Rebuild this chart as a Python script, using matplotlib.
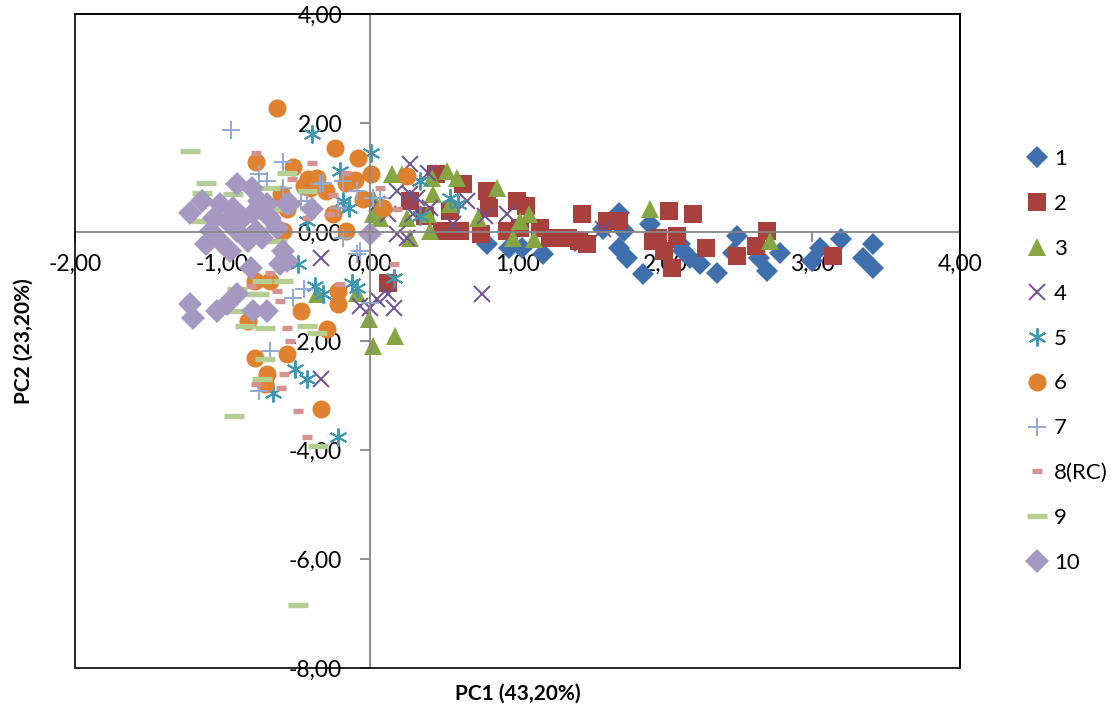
import matplotlib
matplotlib.use("Agg")
import matplotlib.pyplot as plt
from matplotlib.patches import Rectangle
from matplotlib.ticker import FixedLocator, FuncFormatter

plt.rcParams['font.family'] = ['Lato', 'DejaVu Sans']

labels = ["1", "2", "3", "4", "5", "6", "7", "8(RC)", "9", "10"]

s1_x = [0.79, 0.94, 1.03, 1.17, 1.39, 1.58, 1.69, 1.72, 1.69, 1.74, 1.85, 1.90, 2.10, 2.12, 2.17, 2.24,
        2.35, 2.49, 2.46, 2.64, 2.69, 2.78, 3.00, 3.05, 3.19, 3.34, 3.41, 3.41]
s1_y = [-0.22, -0.29, -0.29, -0.40, -0.16, 0.05, 0.35, 0.02, -0.29, -0.48, -0.77, 0.15, -0.22, -0.35, -0.48, -0.59,
        -0.75, -0.07, -0.38, -0.48, -0.71, -0.38, -0.53, -0.29, -0.13, -0.48, -0.22, -0.66]

s2_x = [0.12, 0.27, 0.37, 0.45, 0.63, 0.79, 1.00, 1.06, 0.81, 0.54, 0.49, 0.61, 0.75, 0.93, 1.02, 1.15, 1.22,
        1.34, 1.44, 1.42, 1.47, 1.61, 1.69, 1.92, 2.03, 2.19, 1.95, 2.08, 1.99, 2.05, 2.28, 2.49, 2.62, 2.69, 3.14]
s2_y = [-0.93, 0.57, 0.29, 1.06, 0.88, 0.75, 0.57, 0.48, 0.44, 0.38, 0.02, 0.02, -0.04, 0.02, 0.07, 0.07, -0.11,
        -0.11, 0.33, -0.16, -0.22, 0.20, 0.20, -0.16, 0.38, 0.33, -0.11, -0.07, -0.35, -0.66, -0.29, -0.44, -0.26, 0.02, -0.44]

s3_x = [-0.01, 0.02, 0.17, -0.09, -0.36, 0.15, 0.22, 0.42, 0.52, 0.59, 0.43, 0.54, 0.39, 0.25, 0.07, 0.41,
        0.73, 0.86, 1.02, 1.08, 0.97, 1.11, 1.90, 2.71, 0.02, 0.27, 0.02]
s3_y = [-1.59, -2.09, -1.90, -1.12, -1.14, 1.06, 1.06, 0.99, 1.12, 0.99, 0.70, 0.51, 0.33, 0.26, 0.26, 0.02,
        0.26, 0.81, 0.20, 0.33, -0.11, -0.13, 0.42, -0.16, 0.62, -0.11, 0.33]

s4_x = [0.27, 0.76, -0.33, -0.33, 0.00, 0.16, 0.12, -0.07, 0.05, 0.56, 0.93, 1.58, 0.41, 0.32, 0.18, 0.18,
        0.27, 0.12, 0.29, 0.25, 0.05, 0.39, 0.66, 0.78]
s4_y = [1.25, -1.14, -0.48, -2.69, -1.39, -1.39, -1.14, -1.36, -1.23, 0.15, 0.33, 0.05, 0.44, 0.62, -0.04, 0.75,
        0.70, 0.33, 0.33, -0.11, 0.51, 1.08, 0.57, 0.29]

s5_x = [-0.39, 0.01, -0.20, -0.18, -0.14, 0.34, 0.54, 0.34, 0.60, 0.16, -0.12, -0.49, -0.37, -0.32, -0.51,
        -0.43, -0.66, -0.22, -0.09, -0.43]
s5_y = [1.79, 1.45, 1.12, 0.57, 0.44, 0.93, 0.62, 0.29, 0.51, -0.84, -0.93, -0.59, -0.99, -1.14, -2.51,
        -2.69, -2.95, -3.77, -1.03, 0.20]

s6_x = [-0.63, -0.24, -0.08, -0.77, -0.52, -0.42, -0.36, -0.16, 0.01, 0.25, -0.25, -0.56, -0.59, -0.16, 0.09,
        -0.41, -0.78, -0.68, -0.83, -0.47, -0.29, -0.22, -0.22, -0.78, -0.56, -0.70, -0.71, -0.33,
        -0.45, -0.30, -0.10, -0.05, -0.60]
s6_y = [2.27, 1.54, 1.36, 1.28, 1.19, 0.97, 0.99, 0.90, 1.06, 1.03, 0.33, 0.42, 0.02, 0.02, 0.44,
        0.81, -0.90, -0.90, -1.63, -1.45, -1.78, -1.08, -1.32, -2.31, -2.23, -2.60, -2.78, -3.24,
        0.85, 0.75, 0.95, 0.60, 0.70]

s7_x = [-0.94, -0.59, -0.75, -0.70, -0.59, -0.47, -0.32, -0.18, -0.09, 0.02, -0.07, -0.18, -0.68, -0.75,
        -0.09, 0.00, -0.45, -0.52, -0.95, -0.34, -0.22, -0.43, 0.07]
s7_y = [1.87, 1.28, 1.06, 0.93, 0.81, 0.57, 0.90, 0.93, 0.75, 0.62, -0.35, -0.11, -2.18, -2.91,
        -0.40, -1.30, -1.04, -1.21, -1.21, 0.88, 0.44, 0.57, 0.62]

s8_x = [-0.77, -0.39, -0.53, -0.16, -0.25, 0.07, 0.18, -0.43, -0.66, -1.00, -0.27, 0.16, -0.68, -0.81, -0.61,
        -0.56, -0.54, -0.58, -0.77, -0.60, -0.49, -0.43, -0.20, -0.63]
s8_y = [1.45, 1.26, 0.97, 1.08, 0.68, 0.81, 0.42, 0.26, 0.33, -0.16, 0.33, -0.59, -0.75, -0.99, -1.26,
        -1.76, -2.00, -2.60, -2.78, -2.86, -3.28, -3.77, -0.95, -1.08]

s9_x = [-1.22, -1.11, -1.14, -0.93, -0.56, -0.68, -0.43, -1.15, -0.63, -0.73, -0.77, -1.00, -0.63, -0.90,
        -0.75, -0.92, -0.85, -0.71, -0.43, -0.36, -0.71, -0.73, -0.59, -0.92, -0.35, -0.49]
s9_y = [1.48, 0.90, 0.71, 0.70, 1.08, 0.81, 0.75, 0.20, 0.42, -0.90, -1.14, 0.16, -0.16, -1.04,
        -1.14, -1.45, -1.72, -1.76, -1.72, -1.85, -2.33, -2.69, -0.90, -3.37, -3.92, -6.85]

s10_x = [-1.22, -1.14, -0.90, -0.80, -1.02, -0.93, -0.75, -1.06, -0.97, -0.86, -0.79, -0.68, -1.08, -0.90,
         -0.77, -0.63, -1.11, -1.02, -0.83, -0.73, -0.95, -0.56, -0.39, 0.00, -0.59, -0.61, -0.90, -1.22,
         -1.20, -1.04, -0.97, -0.79, -0.70, -0.56, -0.81, -0.70, -0.54]
s10_y = [0.35, 0.57, 0.88, 0.81, 0.51, 0.44, 0.57, 0.26, 0.20, 0.26, 0.35, 0.26, 0.02, 0.02,
         0.02, 0.07, -0.22, -0.16, -0.16, -0.11, -0.35, 0.51, 0.42, -0.04, -0.35, -0.59, -1.14, -1.32,
         -1.58, -1.45, -1.32, -1.45, -1.45, -0.53, -0.66, 0.51, 0.51]

xs = [s1_x, s2_x, s3_x, s4_x, s5_x, s6_x, s7_x, s8_x, s9_x, s10_x]
ys = [s1_y, s2_y, s3_y, s4_y, s5_y, s6_y, s7_y, s8_y, s9_y, s10_y]

colors = ["#3F6FAD", "#A8403D", "#86A643", "#6F5191", "#3F98B0", "#E0812F",
          "#93A9D3", "#D69290", "#B4CD90", "#A598C1"]
styles = [
    dict(marker='D', markersize=11.5),
    dict(marker='s', markersize=13),
    dict(marker='^', markersize=13),
    dict(marker='x', markersize=11, markeredgewidth=1.4),
    dict(marker=(6, 2, 0), markersize=13, markeredgewidth=1.4),
    dict(marker='o', markersize=13),
    dict(marker='+', markersize=13, markeredgewidth=1.4),
    dict(marker='_', markersize=7, markeredgewidth=3.8),
    dict(marker='_', markersize=14, markeredgewidth=3.8),
    dict(marker='D', markersize=12),
]

fig = plt.figure(figsize=(11.15, 7.08), dpi=100)
ax = fig.add_axes([75/1115, 1-668/708, 885/1115, 654/708])

for x, y, c, st, lab in zip(xs, ys, colors, styles, labels):
    kw = dict(st)
    if kw['marker'] in ('x', '+', '_') or isinstance(kw['marker'], tuple):
        kw['markeredgecolor'] = c
        kw['color'] = c
    else:
        kw['markerfacecolor'] = c
        kw['markeredgecolor'] = c
        kw['markeredgewidth'] = 0
    ax.plot(x, y, linestyle='none', label=lab, **kw)

ax.set_xlim(-2, 4)
ax.set_ylim(-8, 4)

for side in ('left', 'bottom'):
    ax.spines[side].set_position(('data', 0))
    ax.spines[side].set_color('#878787')
    ax.spines[side].set_linewidth(1.3)
for side in ('right', 'top'):
    ax.spines[side].set_color('black')
    ax.spines[side].set_linewidth(1.2)
ax.add_patch(Rectangle((0, 0), 1, 1, transform=ax.transAxes, fill=False,
                       edgecolor='black', linewidth=1.2, clip_on=False, zorder=5))

fmt = FuncFormatter(lambda v, p: f"{v:.2f}".replace('.', ','))
ax.xaxis.set_major_locator(FixedLocator([-2, -1, 0, 1, 2, 3, 4]))
ax.yaxis.set_major_locator(FixedLocator([-8, -6, -4, -2, 0, 2, 4]))
ax.xaxis.set_major_formatter(fmt)
ax.yaxis.set_major_formatter(fmt)
ax.tick_params(axis='x', direction='out', length=7, width=1.3, color='#878787',
               pad=9, labelsize=16.5)
ax.tick_params(axis='y', direction='out', length=7, width=1.3, color='#878787',
               pad=13, labelsize=16.5)

ax.set_xlabel("PC1 (43,20%)", fontsize=15, fontweight='bold')
ax.set_ylabel("PC2 (23,20%)", fontsize=15, fontweight='bold')
ax.xaxis.set_label_coords(0.5, -0.024)
ax.yaxis.set_label_coords(-0.047, 0.5)

leg = ax.legend(loc='upper left', bbox_to_anchor=(1023/1115, 1-149/708),
                bbox_transform=fig.transFigure, frameon=False, fontsize=16,
                labelspacing=1.12, handletextpad=0.1, handlelength=1.3,
                borderaxespad=0, borderpad=0)

fig.savefig("out.png", dpi=100)
